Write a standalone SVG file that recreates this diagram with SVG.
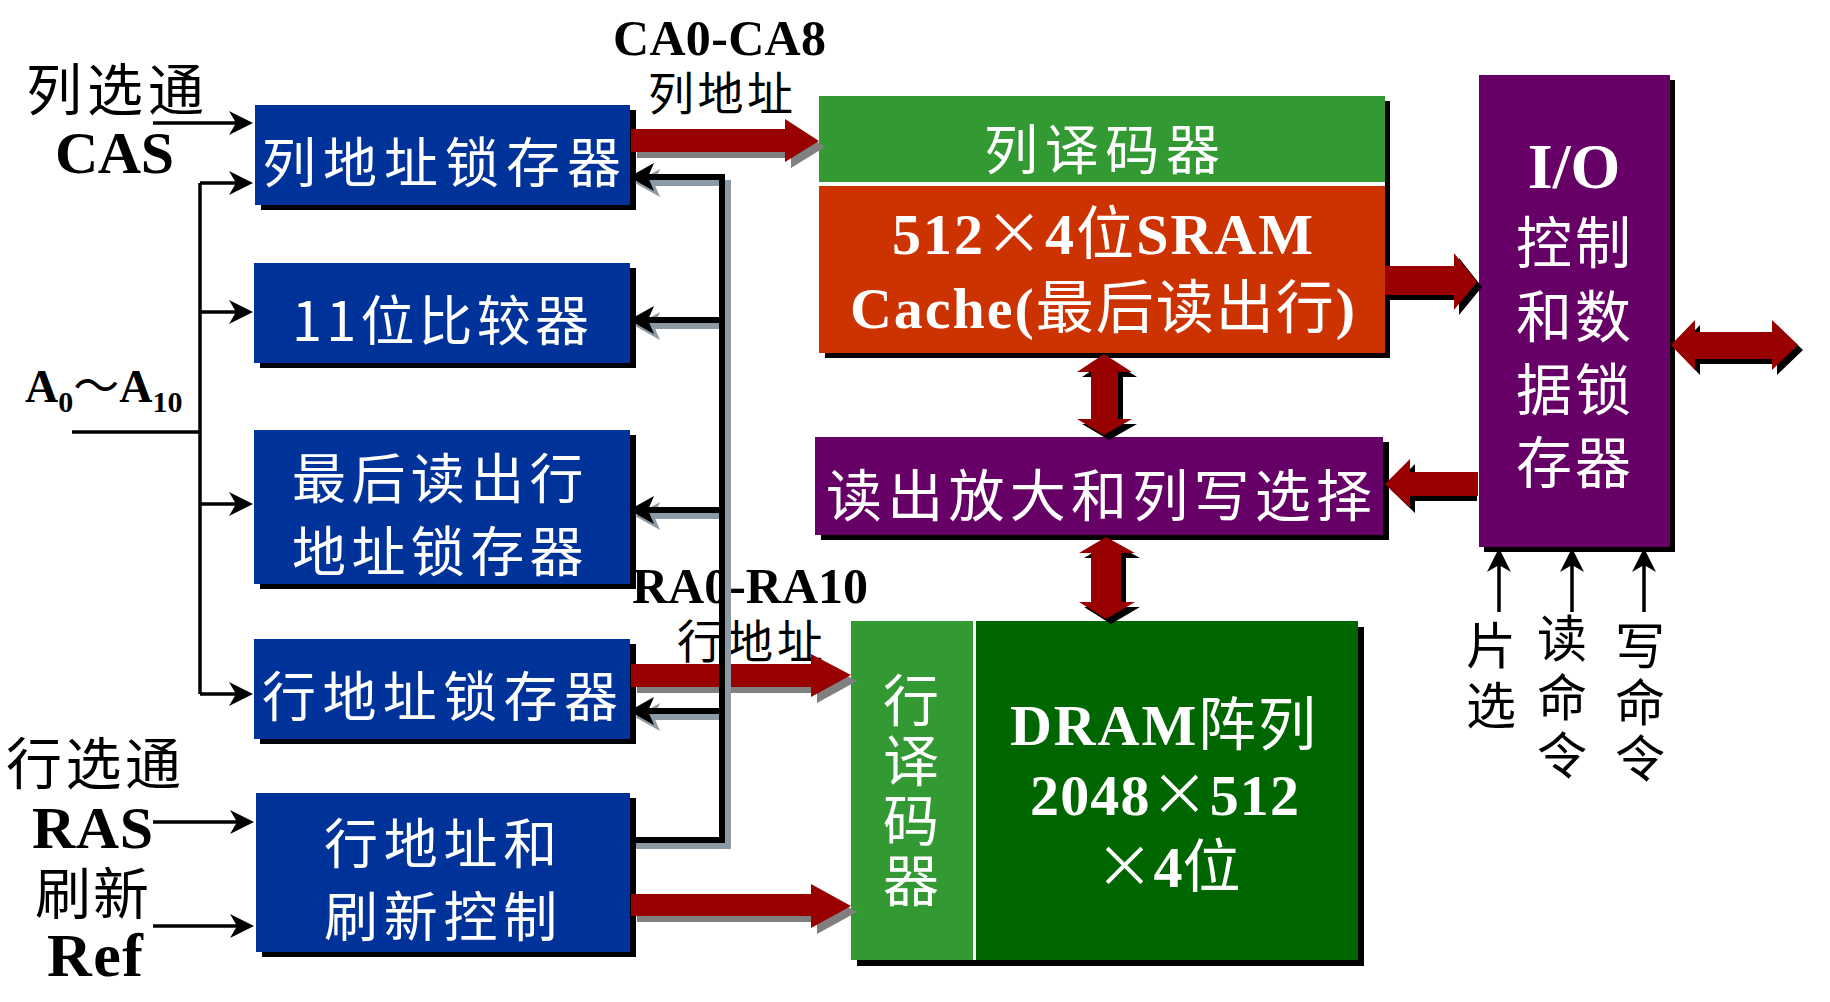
<svg xmlns="http://www.w3.org/2000/svg" width="1830" height="1002" viewBox="0 0 1830 1002">
<defs>
<style>
.sh{fill:#000}
.blue{fill:#003399}
.g1{fill:#339933}
.g2{fill:#006600}
.or{fill:#CC3300}
.pu{fill:#660066}
.wc{fill:#fff;font-family:"Noto Sans CJK SC","Noto Sans CJK TC",sans-serif;dominant-baseline:central}
.kc{fill:#000;font-family:"Noto Sans CJK SC","Noto Sans CJK TC",sans-serif;dominant-baseline:central}
.vt{writing-mode:vertical-rl}
.wl{fill:#fff;font-family:"Liberation Serif","Times New Roman",serif;font-weight:bold}
.kl{fill:#000;font-family:"Liberation Serif","Times New Roman",serif;font-weight:bold}
.cj{font-family:"Noto Sans CJK SC","Noto Sans CJK TC",sans-serif;font-weight:normal}
.thin{stroke:#000;stroke-width:3.5;fill:none}
.red{fill:#990000}
.gsh{fill:#808080}
.bsh{fill:#000}
</style>
<marker id="ah" markerUnits="userSpaceOnUse" markerWidth="26" markerHeight="26" viewBox="0 0 26 26" refX="14" refY="13" orient="auto">
<path d="M0,1 L24,13 L0,25 L7,13 Z" fill="#000"/>
</marker>
</defs>
<rect width="1830" height="1002" fill="#fff"/>

<!-- Left nodes -->
<g id="col-latch">
<rect class="sh" x="261" y="110" width="375" height="100"/>
<rect class="blue" x="255" y="105" width="375" height="100"/>
<text class="wc" x="262" y="159" font-size="54" textLength="359" lengthAdjust="spacing">列地址锁存器</text>
</g>
<g id="comparator">
<rect class="sh" x="260" y="268" width="376" height="100"/>
<rect class="blue" x="254" y="263" width="376" height="100"/>
<text class="wc" x="292" y="317" font-size="54" textLength="297" lengthAdjust="spacing">11位比较器</text>
</g>
<g id="last-row-latch">
<rect class="sh" x="260" y="435" width="376" height="154"/>
<rect class="blue" x="254" y="430" width="376" height="154"/>
<text class="wc" font-size="54" letter-spacing="5.4"><tspan x="292" y="475">最后读出行</tspan><tspan x="292" y="548">地址锁存器</tspan></text>
</g>
<g id="row-latch">
<rect class="sh" x="260" y="644" width="376" height="100"/>
<rect class="blue" x="254" y="639" width="376" height="100"/>
<text class="wc" x="262" y="693" font-size="54" textLength="356" lengthAdjust="spacing">行地址锁存器</text>
</g>
<g id="refresh-ctrl">
<rect class="sh" x="262" y="798" width="374" height="159"/>
<rect class="blue" x="256" y="793" width="374" height="159"/>
<text class="wc" font-size="54" letter-spacing="5.75"><tspan x="324" y="840">行地址和</tspan><tspan x="324" y="913">刷新控制</tspan></text>
</g>

<!-- Column decoder + SRAM cache -->
<g id="col-decoder">
<rect class="sh" x="825" y="101" width="565" height="257"/>
<rect class="g1" x="819" y="96" width="566" height="86"/>
<rect fill="#fff" x="819" y="182" width="566" height="4"/>
<text class="wc" x="984" y="146" font-size="54" textLength="236" lengthAdjust="spacing">列译码器</text>
</g>
<g id="sram-cache">
<rect class="or" x="819" y="186" width="566" height="167"/>
<text class="wl" x="892" y="254" font-size="58" textLength="421" lengthAdjust="spacing">512<tspan class="cj">×</tspan>4<tspan class="cj">位</tspan>SRAM</text>
<text class="wl" x="850" y="328" font-size="58" textLength="505" lengthAdjust="spacing">Cache(<tspan class="cj">最后读出行</tspan>)</text>
</g>

<g id="sense-amp">
<rect class="sh" x="821" y="442" width="568" height="98"/>
<rect class="pu" x="815" y="437" width="568" height="98"/>
<text class="wc" x="826" y="491" font-size="56" textLength="546" lengthAdjust="spacing">读出放大和列写选择</text>
</g>

<g id="io">
<rect class="sh" x="1484" y="80" width="191" height="472"/>
<rect class="pu" x="1479" y="75" width="191" height="472"/>
<text class="wl" x="1574" y="188" font-size="64" text-anchor="middle">I/O</text>
<text class="wc" font-size="56" letter-spacing="3"><tspan x="1516" y="238">控制</tspan><tspan x="1516" y="312">和数</tspan><tspan x="1516" y="385">据锁</tspan><tspan x="1516" y="458">存器</tspan></text>
</g>

<g id="row-decoder">
<rect class="sh" x="857" y="627" width="507" height="339"/>
<rect class="g1" x="851" y="621" width="122" height="339"/>
<rect fill="#fff" x="973" y="621" width="3" height="339"/>
<text class="wc vt" x="911" y="672" font-size="56" letter-spacing="4">行译码器</text>
</g>
<g id="dram">
<rect class="g2" x="976" y="621" width="382" height="339"/>
<text class="wl" x="1010" y="745" font-size="58" textLength="306" lengthAdjust="spacing">DRAM<tspan class="cj">阵列</tspan></text>
<text class="wl" x="1030" y="815" font-size="58" textLength="269" lengthAdjust="spacing">2048<tspan class="cj">×</tspan>512</text>
<text class="wl" x="1168" y="887" font-size="58" text-anchor="middle"><tspan class="cj">×</tspan>4<tspan class="cj">位</tspan></text>
</g>

<!-- Labels -->
<g id="labels">
<text class="kc" x="26" y="85" font-size="56" textLength="178" lengthAdjust="spacing">列选通</text>
<text class="kl" x="55" y="173" font-size="60" textLength="119" lengthAdjust="spacing">CAS</text>
<text class="kl" x="25" y="402" font-size="46">A<tspan font-size="30" dy="10">0</tspan><tspan class="cj" dy="-10">～</tspan>A<tspan font-size="30" dy="10">10</tspan></text>
<text class="kc" x="6" y="759" font-size="56" textLength="175" lengthAdjust="spacing">行选通</text>
<text class="kl" x="32" y="848" font-size="60" textLength="121" lengthAdjust="spacing">RAS</text>
<text class="kc" x="35" y="889" font-size="56" textLength="114" lengthAdjust="spacing">刷新</text>
<text class="kl" x="47" y="976" font-size="62" textLength="96" lengthAdjust="spacing">Ref</text>
<text class="kl" x="613" y="55" font-size="50" textLength="213" lengthAdjust="spacing">CA0-CA8</text>
<text class="kc" x="648" y="90" font-size="46" textLength="145" lengthAdjust="spacing">列地址</text>
<text class="kl" x="632" y="603" font-size="50" textLength="236" lengthAdjust="spacing">RA0-RA10</text>
<text class="kc" x="677" y="638" font-size="46" textLength="146" lengthAdjust="spacing">行地址</text>
<text class="kc vt" x="1491" y="620" font-size="50" letter-spacing="10">片选</text>
<text class="kc vt" x="1562" y="613" font-size="50" letter-spacing="8.5">读命令</text>
<text class="kc vt" x="1640" y="620" font-size="50" letter-spacing="6.5">写命令</text>
</g>

<!-- Connectors -->
<g id="connectors">
<line class="thin" x1="153" y1="123" x2="243" y2="123" marker-end="url(#ah)"/>
<line class="thin" x1="153" y1="822" x2="244" y2="822" marker-end="url(#ah)"/>
<line class="thin" x1="153" y1="926" x2="244" y2="926" marker-end="url(#ah)"/>
<line class="thin" x1="72" y1="432" x2="200" y2="432"/>
<path class="thin" d="M200,183 V694"/>
<line class="thin" x1="200" y1="183" x2="243" y2="183" marker-end="url(#ah)"/>
<line class="thin" x1="200" y1="312" x2="243" y2="312" marker-end="url(#ah)"/>
<line class="thin" x1="200" y1="504" x2="243" y2="504" marker-end="url(#ah)"/>
<line class="thin" x1="200" y1="694" x2="243" y2="694" marker-end="url(#ah)"/>
<line class="thin" x1="1499" y1="612" x2="1499" y2="558" marker-end="url(#ah)"/>
<line class="thin" x1="1572" y1="612" x2="1572" y2="558" marker-end="url(#ah)"/>
<line class="thin" x1="1644" y1="612" x2="1644" y2="558" marker-end="url(#ah)"/>

<g transform="translate(6,6)" class="gsh">
<polygon points="631,129 785,129 785,119 819,141 785,162 785,152 631,152"/>
<polygon points="631,664 811,664 811,654 851,675 811,697 811,687 631,687"/>
<polygon points="631,894 811,894 811,884 851,906 811,928 811,916 631,916"/>
</g>
<g class="red">
<polygon points="631,129 785,129 785,119 819,141 785,162 785,152 631,152"/>
<polygon points="631,664 811,664 811,654 851,675 811,697 811,687 631,687"/>
<polygon points="631,894 811,894 811,884 851,906 811,928 811,916 631,916"/>
</g>

<g transform="translate(5,5)" class="bsh">
<polygon points="1385,266 1454,266 1454,253 1477,282 1454,310 1454,295 1385,295"/>
<polygon points="1472,472 1410,472 1410,459 1385,484 1410,508 1410,496 1472,496"/>
<polygon points="1671,345 1695,320 1695,332 1772,332 1772,320 1798,345 1772,370 1772,359 1695,359 1695,370"/>
<polygon points="1104,354 1132,372 1118,372 1118,419 1132,419 1104,435 1077,419 1091,419 1091,372 1077,372"/>
<polygon points="1106,537 1135,553 1121,553 1121,602 1135,602 1106,619 1079,602 1091,602 1091,553 1079,553"/>
</g>
<g class="red">
<polygon points="1385,266 1454,266 1454,253 1477,282 1454,310 1454,295 1385,295"/>
<polygon points="1478,472 1410,472 1410,459 1385,484 1410,508 1410,496 1478,496"/>
<polygon points="1671,345 1695,320 1695,332 1772,332 1772,320 1798,345 1772,370 1772,359 1695,359 1695,370"/>
<polygon points="1104,354 1132,372 1118,372 1118,419 1132,419 1104,435 1077,419 1091,419 1091,372 1077,372"/>
<polygon points="1106,537 1135,553 1121,553 1121,602 1135,602 1106,619 1079,602 1091,602 1091,553 1079,553"/>
</g>

<g transform="translate(6,6)">
<path d="M630,840 H722 V177 H648 M722,320 H648 M722,510 H648 M722,711 H648" stroke="#8c9aa6" stroke-width="6" fill="none"/>
<g fill="#8c9aa6">
<polygon points="629,177 654,163 648,177 654,191"/>
<polygon points="629,320 654,306 648,320 654,334"/>
<polygon points="629,510 654,496 648,510 654,524"/>
<polygon points="629,711 654,697 648,711 654,725"/>
</g>
</g>
<path d="M630,840 H722 V177 H648 M722,320 H648 M722,510 H648 M722,711 H648" stroke="#000" stroke-width="6" fill="none"/>
<g fill="#000">
<polygon points="629,177 654,163 648,177 654,191"/>
<polygon points="629,320 654,306 648,320 654,334"/>
<polygon points="629,510 654,496 648,510 654,524"/>
<polygon points="629,711 654,697 648,711 654,725"/>
</g>
</g>
</svg>
